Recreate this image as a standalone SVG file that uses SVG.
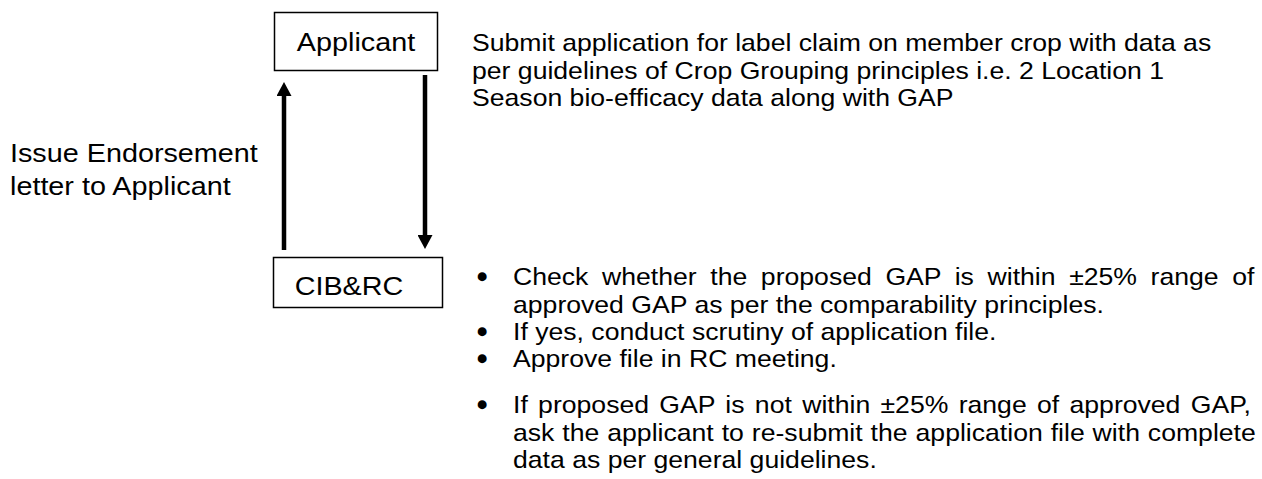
<svg xmlns="http://www.w3.org/2000/svg" width="1262" height="479" viewBox="0 0 1262 479">
<style>
  .t12 { font-family: "Liberation Sans", Arial, sans-serif; font-size: 23.8px; fill: #000; }
  .t13 { font-family: "Liberation Sans", Arial, sans-serif; font-size: 25.7px; fill: #000; }
  .bul { font-family: "Liberation Sans", Arial, sans-serif; font-size: 23.8px; fill: #000; stroke: #000; stroke-width: 2.4; stroke-linejoin: round; }
  .box { fill: #fff; stroke: #000; stroke-width: 1.5; }
  .conn { stroke: #000; stroke-width: 4.5; fill: none; marker-end: url(#ah); }
</style>
<defs>
  <marker id="ah" markerUnits="userSpaceOnUse" markerWidth="15" markerHeight="15" refX="4" refY="7.5" orient="auto">
    <path d="M0,0 L14,7.5 L0,15 z" fill="#000"/>
  </marker>
</defs>
<rect width="1262" height="479" fill="#fff"/>

<g id="connectors">
  <line class="conn" x1="425" y1="75" x2="425" y2="239"/>
  <line class="conn" x1="284" y1="250" x2="284" y2="92"/>
</g>

<g id="applicant">
  <rect class="box" x="274.5" y="12.5" width="163" height="58"/>
  <text class="t13" transform="translate(356 51) scale(1.12 1)" text-anchor="middle">Applicant</text>
</g>

<g id="cibrc">
  <rect class="box" x="273.5" y="257.5" width="169" height="50"/>
  <text class="t13" transform="translate(349 295) scale(1.12 1)" text-anchor="middle">CIB&amp;RC</text>
</g>

<g id="submit-note">
  <text class="t12" transform="translate(472 51) scale(1.118 1)">Submit application for label claim on member crop with data as</text>
  <text class="t12" transform="translate(472 79) scale(1.118 1)">per guidelines of Crop Grouping principles i.e. 2 Location 1</text>
  <text class="t12" transform="translate(472 106) scale(1.118 1)">Season bio-efficacy data along with GAP</text>
</g>

<g id="endorsement-note">
  <text class="t13" transform="translate(10 162) scale(1.12 1)">Issue Endorsement</text>
  <text class="t13" transform="translate(10 195) scale(1.12 1)">letter to Applicant</text>
</g>

<g id="check-list">
  <text class="bul" x="478" y="285">•</text>
  <text class="t12" transform="translate(513 285) scale(1.118 1)" word-spacing="5.57">Check whether the proposed GAP is within ±25% range of</text>
  <text class="t12" transform="translate(513 312.5) scale(1.118 1)">approved GAP as per the comparability principles.</text>
  <text class="bul" x="478" y="340">•</text>
  <text class="t12" transform="translate(513 340) scale(1.118 1)">If yes, conduct scrutiny of application file.</text>
  <text class="bul" x="478" y="367">•</text>
  <text class="t12" transform="translate(513 367) scale(1.118 1)">Approve file in RC meeting.</text>
  <text class="bul" x="478" y="413">•</text>
  <text class="t12" transform="translate(513 413) scale(1.118 1)" word-spacing="2.62">If proposed GAP is not within ±25% range of approved GAP,</text>
  <text class="t12" transform="translate(513 440.5) scale(1.118 1)" word-spacing="0.5">ask the applicant to re-submit the application file with complete</text>
  <text class="t12" transform="translate(513 468) scale(1.118 1)">data as per general guidelines.</text>
</g>
</svg>
